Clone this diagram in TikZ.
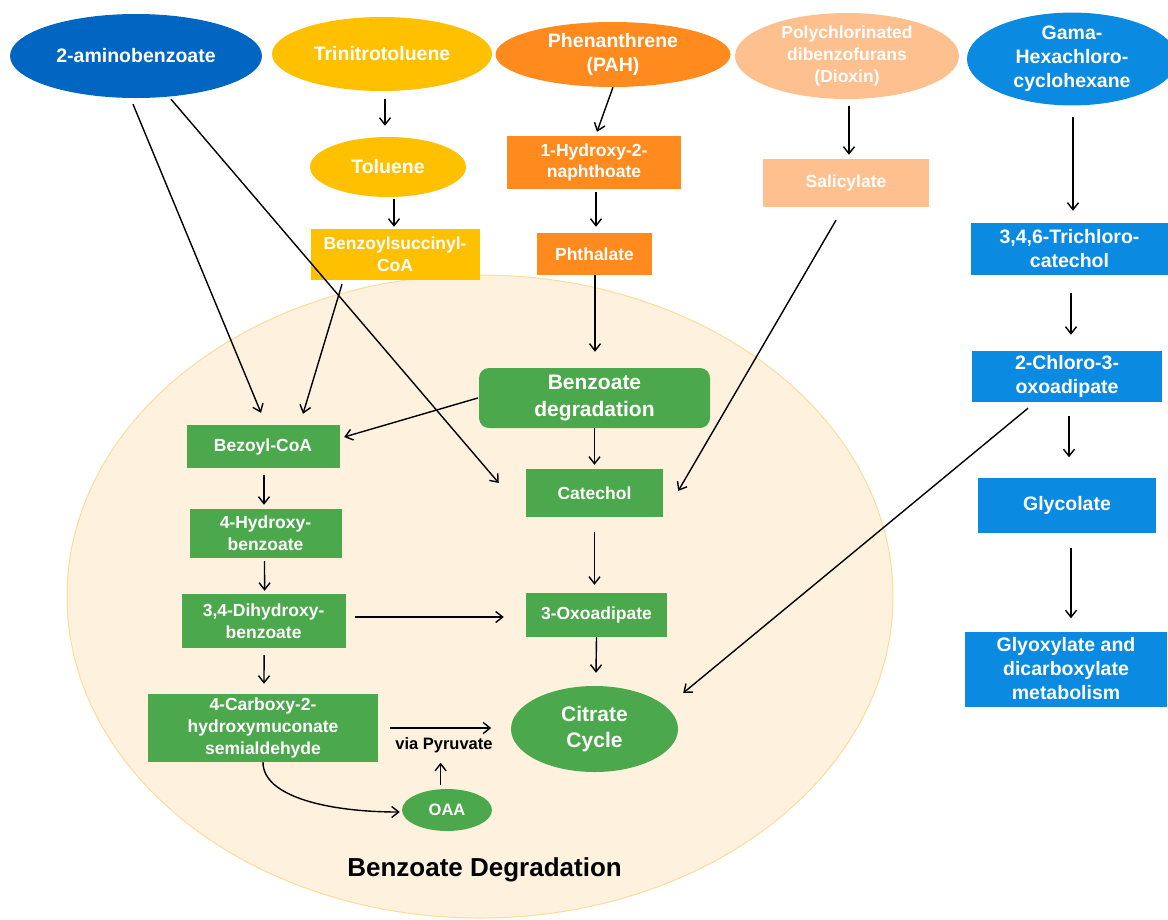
\documentclass[tikz,border=0pt]{standalone}
\usepackage{fontspec}
\setmainfont{Liberation Sans}
\usetikzlibrary{shapes.geometric,arrows.meta,calc}

\definecolor{navy}{HTML}{0066C2}
\definecolor{sky}{HTML}{0A8AE0}
\definecolor{sun}{HTML}{FFC000}
\definecolor{tangerine}{HTML}{FF8A1E}
\definecolor{peach}{HTML}{FFC08F}
\definecolor{leaf}{HTML}{4CA84C}
\definecolor{cream}{HTML}{FEF2DF}
\definecolor{creamedge}{HTML}{FDDB9A}

\newcommand\setfs[2]{\fontsize{#1}{#2}\selectfont}

\tikzset{
  base/.style={inner sep=0pt, align=center, text=white, draw=none},
  ell/.style={base, ellipse},
  box/.style={base, rectangle},
  small/.style={font=\bfseries\setfs{17.5}{21.7}},
  large/.style={font=\bfseries\setfs{19.5}{24}},
  huge/.style={font=\bfseries\setfs{21}{26.7}},
  arr/.style={line width=1.4pt, draw=black, -{Straight Barb[length=7pt,width=11pt]}},
}

\begin{document}
\begin{tikzpicture}[x=1pt,y=-1pt]
\useasboundingbox (0,0) rectangle (1168,919);

% shaded region of the benzoate degradation pathway
\draw[fill=cream, draw=creamedge, line width=1pt] (480,596.5) ellipse [x radius=413, y radius=321.5];

% source compounds
\node[ell, large, fill=navy, minimum width=252, minimum height=84] (amino) at (136,56) {2-aminobenzoate};
\node[ell, large, fill=sun, minimum width=220, minimum height=74] (tnt) at (382,54) {Trinitrotoluene};
\node[ell, large, fill=tangerine, minimum width=235, minimum height=65] (phen) at (613,54.5) {Phenanthrene\\(PAH)};
\node[ell, small, fill=peach, minimum width=224, minimum height=86] (diox) at (847,56) {Polychlorinated\\dibenzofurans\\(Dioxin)};
\node[ell, large, fill=sky, minimum width=210, minimum height=92] (gama) at (1072,59) {Gama-\\Hexachloro-\\cyclohexane};

% upper intermediates
\node[ell, large, fill=sun, minimum width=156, minimum height=60] (tol) at (388,167) {Toluene};
\node[box, small, fill=sun, minimum width=169, minimum height=51] (bsc) at (395,254) {Benzoylsuccinyl-\\CoA};
\node[box, small, fill=tangerine, minimum width=174, minimum height=53] (hna) at (594,162.5) {1-Hydroxy-2-\\naphthoate};
\node[box, small, fill=tangerine, minimum width=115, minimum height=42] (pht) at (594.5,254) {Phthalate};
\node[box, small, fill=peach, minimum width=166, minimum height=48] (sal) at (846,183) {Salicylate};

% chlorinated branch
\node[box, large, fill=sky, minimum width=197, minimum height=52] (tcc) at (1069.5,249) {3,4,6-Trichloro-\\catechol};
\node[box, large, fill=sky, minimum width=190, minimum height=51] (cox) at (1067,376.5) {2-Chloro-3-\\oxoadipate};
\node[box, large, fill=sky, minimum width=178, minimum height=55] (gly) at (1067,505) {Glycolate};
\node[box, large, fill=sky, minimum width=202, minimum height=75] (glx) at (1066,669) {Glyoxylate and\\dicarboxylate\\metabolism};

% benzoate degradation
\node[box, huge, fill=leaf, rounded corners=10pt, minimum width=231, minimum height=60] (bd) at (594.5,398) {Benzoate\\degradation};
\node[box, small, fill=leaf, minimum width=153, minimum height=43] (bzc) at (263,446.5) {Bezoyl-CoA};
\node[box, small, fill=leaf, minimum width=152, minimum height=49] (hb) at (265.5,533.5) {4-Hydroxy-\\benzoate};
\node[box, small, fill=leaf, minimum width=164, minimum height=54] (dhb) at (263.6,621) {3,4-Dihydroxy-\\benzoate};
\node[box, small, fill=leaf, minimum width=230, minimum height=68] (chm) at (263,728) {4-Carboxy-2-\\hydroxymuconate\\semialdehyde};
\node[box, small, fill=leaf, minimum width=137, minimum height=48] (cat) at (594.5,493) {Catechol};
\node[box, small, fill=leaf, minimum width=141, minimum height=44] (oxo) at (596.5,615) {3-Oxoadipate};
\node[ell, huge, fill=leaf, minimum width=167, minimum height=86] (cit) at (594.5,729) {Citrate\\Cycle};
\node[ell, font=\bfseries\setfs{16.5}{20}, fill=leaf, minimum width=90, minimum height=42] (oaa) at (447,810) {OAA};

\node[base, text=black, font=\bfseries\setfs{16.5}{20}] (via) at (444,745.7) {via Pyruvate};
\node[base, text=black, font=\bfseries\setfs{26}{30}] (title) at (484.6,870) {Benzoate Degradation};

% connectors
\draw[arr] ($(amino.south)+(-3,6)$) -- ($(bzc.north)+(-2,-12)$);
\draw[arr] ($(amino.south)+(35,1)$) -- ($(cat.west)+(-27,-10)$);
\draw[arr] ($(tnt.south)+(3,8)$) -- ($(tol.north)+(-3,-11)$);
\draw[arr] ($(tol.south)+(6,2)$) -- ($(bsc.north)+(-1,-1.5)$);
\draw[arr] ($(bsc.south)+(-53,4.5)$) -- ($(bzc.north)+(40,-11)$);
\draw[arr] (phen.south) -- ($(hna.north)+(3,-4)$);
\draw[arr] ($(hna.south)+(2,3)$) -- ($(pht.north)+(1.5,-6)$);
\draw[arr] ($(pht.south)+(0.5,0)$) -- ($(bd.north)+(0.5,-16)$);
\draw[arr] ($(diox.south)+(2,7)$) -- ($(sal.north)+(3,-4)$);
\draw[arr] ($(sal.south)+(-10,13)$) -- ($(cat.east)+(15,-2)$);
\draw[arr] ($(gama.south)+(1,11)$) -- ($(tcc.north)+(3.5,-12)$);
\draw[arr] ($(tcc.south)+(1.5,18)$) -- ($(cox.north)+(4,-16)$);
\draw[arr] ($(cox.south)+(2,14)$) -- ($(gly.north)+(2,-20)$);
\draw[arr] ($(gly.south)+(4,15)$) -- ($(glx.north)+(5,-13)$);
\draw[arr] ($(cox.south)+(-39,6)$) -- ($(cit.east)+(5,-36)$);
\draw[arr] ($(bd.west)+(-1,0)$) -- ($(bzc.east)+(4.5,-9.5)$);
\draw[arr] (bd.south) -- ($(cat.north)+(0,-4)$);
\draw[arr] ($(bzc.south)+(1,7)$) -- ($(hb.north)+(-1.5,-4)$);
\draw[arr] ($(hb.south)+(-1,3)$) -- ($(dhb.north)+(1,-3)$);
\draw[arr] ($(dhb.east)+(9,-4)$) -- ($(oxo.west)+(-22,2)$);
\draw[arr] ($(cat.south)+(0,15)$) -- ($(oxo.north)+(-2,-8)$);
\draw[arr] (oxo.south) -- ($(cit.north)+(1.5,-13)$);
\draw[arr] ($(dhb.south)+(0.5,7)$) -- ($(chm.north)+(1,-10)$);
\draw[arr] ($(chm.east)+(12,0)$) -- ($(cit.west)+(-19.5,-1)$);
\draw[arr] ($(oaa.north)+(-6.4,-4)$) -- ($(via)+(-3.4,17)$);
\draw[arr] (chm.south) .. controls +(0,35) and +(-70,0) .. ($(oaa.west)+(-2,2)$);

\end{tikzpicture}
\end{document}
